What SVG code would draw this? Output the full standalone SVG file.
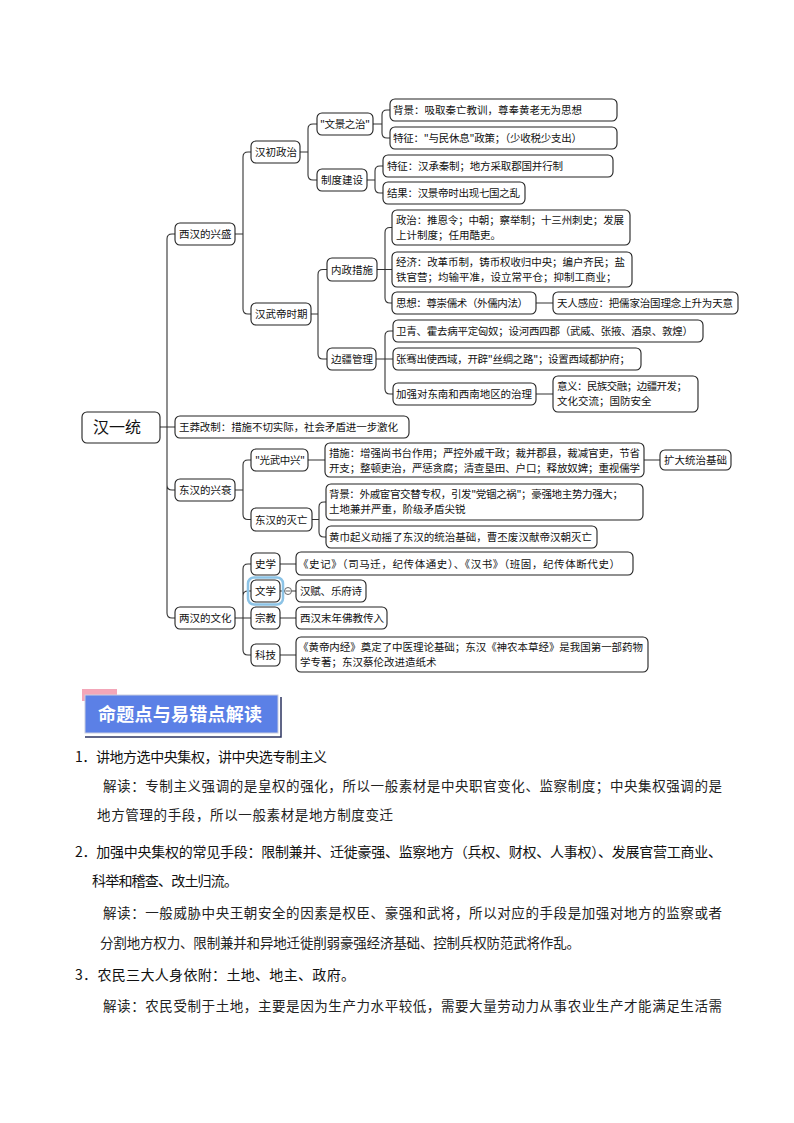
<svg xmlns="http://www.w3.org/2000/svg" width="794" height="1123" viewBox="0 0 794 1123">
<style>
.n{fill:#fff;stroke:#222;stroke-width:1.1}
.t{font-family:"Noto Sans CJK SC","Noto Sans",sans-serif;font-size:10.5px;fill:#111}
.r{font-family:"Noto Sans CJK SC","Noto Sans",sans-serif;font-size:16px;fill:#111}
.ln{fill:none;stroke:#333;stroke-width:1.1}
.p{font-family:"Noto Sans CJK SC","Noto Sans",sans-serif;font-size:14px;fill:#111}
.q{font-family:"Noto Sans CJK SC","Noto Sans",sans-serif;font-size:13.5px;fill:#222}
</style>
<rect width="794" height="1123" fill="#fff"/>
<g id="connectors">
<path class="ln" d="M160,427 H175 M167,427 V239 Q167,234 172,234 H175 M167,427 V485 Q167,490 172,490 H175 M167,427 V613 Q167,618 172,618 H175"/>
<path class="ln" d="M235,234 H243 M243,234 V157 Q243,152 248,152 H251 M243,234 V309 Q243,314 248,314 H251"/>
<path class="ln" d="M300,152 H308 M308,152 V129 Q308,124 313,124 H317 M308,152 V175 Q308,180 313,180 H317"/>
<path class="ln" d="M373,124 H382 V115 Q382,110 387,110 H390 M382,124 V133 Q382,138 387,138 H390"/>
<path class="ln" d="M367,180 H375 V171 Q375,166 380,166 H383 M375,180 V188 Q375,193 380,193 H383"/>
<path class="ln" d="M311,314 H318 V274.5 Q318,269.5 323,269.5 H327 M318,314 V354 Q318,359 323,359 H327"/>
<path class="ln" d="M377,269.5 H392 M385,269.5 V232.5 Q385,227.5 390,227.5 H392 M385,269.5 V298 Q385,303 390,303 H392 M536,303 H553"/>
<path class="ln" d="M376,359 H393 M385,359 V336 Q385,331 390,331 H393 M385,359 V389 Q385,394 390,394 H393 M536,394 H553"/>
<path class="ln" d="M235,490 H243 V465 Q243,460 248,460 H251 M243,490 V514.5 Q243,519.5 248,519.5 H251 M308,460 H325 M644,460 H660"/>
<path class="ln" d="M312,519.5 H319 V507 Q319,502 324,502 H326 M319,519.5 V532 Q319,537 324,537 H326"/>
<path class="ln" d="M235,618 H251 M243,618 V569 Q243,564 248,564 H251 M243,618 V596 Q243,591 248,591 H251 M243,618 V650 Q243,655 248,655 H251"/>
<path class="ln" d="M280,564 H296 M280,591 H296 M280,618 H296 M280,655 H296"/>
<circle cx="288" cy="591" r="3.5" fill="#fff" stroke="#666" stroke-width="1"/>
<path d="M285.5,591 H290.5" stroke="#666" stroke-width="1"/>
</g>
<g id="root"><rect class="n" x="82" y="412" width="78" height="31" rx="5" stroke-width="1.4"/><text class="r" x="93" y="433">汉一统</text></g>
<g id="xh"><rect class="n" x="175" y="223" width="60" height="22" rx="5"/><text class="t" x="179" y="238">西汉的兴盛</text></g>
<g id="hczz"><rect class="n" x="251" y="141" width="49" height="22" rx="5"/><text class="t" x="255" y="156">汉初政治</text></g>
<g id="wjzz"><rect class="n" x="317" y="113" width="56" height="22" rx="5"/><text class="t" x="320" y="128" textLength="50">"文景之治"</text></g>
<g id="wj1"><rect class="n" x="390" y="99" width="227" height="22" rx="5"/><text class="t" x="393" y="114" textLength="189">背景：吸取秦亡教训，尊奉黄老无为思想</text></g>
<g id="wj2"><rect class="n" x="390" y="127" width="227" height="22" rx="5"/><text class="t" x="393" y="142" textLength="189">特征："与民休息"政策；（少收税少支出）</text></g>
<g id="zdjs"><rect class="n" x="317" y="169" width="50" height="22" rx="5"/><text class="t" x="321" y="184">制度建设</text></g>
<g id="zd1"><rect class="n" x="383" y="155" width="230" height="22" rx="5"/><text class="t" x="387" y="170" textLength="176">特征：汉承秦制；地方采取郡国并行制</text></g>
<g id="zd2"><rect class="n" x="383" y="182" width="142" height="22" rx="5"/><text class="t" x="387" y="197" textLength="133">结果：汉景帝时出现七国之乱</text></g>
<g id="hwd"><rect class="n" x="251" y="303" width="60" height="22" rx="5"/><text class="t" x="255" y="318">汉武帝时期</text></g>
<g id="nzcs"><rect class="n" x="327" y="258" width="50" height="23" rx="5"/><text class="t" x="331" y="273.5">内政措施</text></g>
<g id="nz1"><rect class="n" x="392" y="210" width="238" height="35" rx="5"/><text class="t" x="396" y="224" textLength="228">政治：推恩令；中朝；察举制；十三州刺史；发展</text><text class="t" x="396" y="239">上计制度；任用酷吏。</text></g>
<g id="nz2"><rect class="n" x="392" y="252" width="240" height="35" rx="5"/><text class="t" x="396" y="266" textLength="229">经济：改革币制，铸币权收归中央；编户齐民；盐</text><text class="t" x="396" y="281">铁官营；均输平准，设立常平仓；抑制工商业；</text></g>
<g id="nz3"><rect class="n" x="392" y="292" width="144" height="22" rx="5"/><text class="t" x="396" y="307" textLength="132">思想：尊崇儒术（外儒内法）</text></g>
<g id="trgy"><rect class="n" x="553" y="292" width="185" height="22" rx="5"/><text class="t" x="557" y="307" textLength="176">天人感应：把儒家治国理念上升为天意</text></g>
<g id="bjgl"><rect class="n" x="327" y="348" width="49" height="22" rx="5"/><text class="t" x="331" y="363">边疆管理</text></g>
<g id="bj1"><rect class="n" x="393" y="320" width="310" height="22" rx="5"/><text class="t" x="396" y="335" textLength="297">卫青、霍去病平定匈奴；设河西四郡（武威、张掖、酒泉、敦煌）</text></g>
<g id="bj2"><rect class="n" x="393" y="348" width="248" height="22" rx="5"/><text class="t" x="396" y="363" textLength="234">张骞出使西域，开辟"丝绸之路"；设置西域都护府；</text></g>
<g id="bj3"><rect class="n" x="393" y="383" width="143" height="22" rx="5"/><text class="t" x="396" y="398" textLength="136">加强对东南和西南地区的治理</text></g>
<g id="yy"><rect class="n" x="553" y="376" width="145" height="36" rx="5"/><text class="t" x="557" y="390" textLength="130">意义：民族交融；边疆开发；</text><text class="t" x="557" y="405">文化交流；国防安全</text></g>
<g id="wm"><rect class="n" x="175" y="416" width="234" height="22" rx="5"/><text class="t" x="179" y="431" textLength="219">王莽改制：措施不切实际，社会矛盾进一步激化</text></g>
<g id="dh"><rect class="n" x="175" y="479" width="60" height="22" rx="5"/><text class="t" x="179" y="494">东汉的兴衰</text></g>
<g id="gw"><rect class="n" x="251" y="449" width="57" height="22" rx="5"/><text class="t" x="255" y="464" textLength="50">"光武中兴"</text></g>
<g id="gw1"><rect class="n" x="325" y="443" width="319" height="34" rx="5"/><text class="t" x="329" y="457" textLength="311">措施：增强尚书台作用；严控外戚干政；裁并郡县，裁减官吏，节省</text><text class="t" x="329" y="472" textLength="311">开支；整顿吏治，严惩贪腐；清查垦田、户口；释放奴婢；重视儒学</text></g>
<g id="kd"><rect class="n" x="660" y="450" width="71" height="20" rx="5"/><text class="t" x="664" y="464" textLength="63">扩大统治基础</text></g>
<g id="mw"><rect class="n" x="251" y="508" width="61" height="23" rx="5"/><text class="t" x="255" y="523.5">东汉的灭亡</text></g>
<g id="mw1"><rect class="n" x="326" y="484" width="317" height="36" rx="5"/><text class="t" x="329" y="498" textLength="294">背景：外戚宦官交替专权，引发"党锢之祸"；豪强地主势力强大；</text><text class="t" x="329" y="513">土地兼并严重，阶级矛盾尖锐</text></g>
<g id="mw2"><rect class="n" x="326" y="526" width="271" height="22" rx="5"/><text class="t" x="329" y="541" textLength="263">黄巾起义动摇了东汉的统治基础，曹丕废汉献帝汉朝灭亡</text></g>
<g id="lh"><rect class="n" x="175" y="607" width="60" height="22" rx="5"/><text class="t" x="179" y="622">两汉的文化</text></g>
<g id="sx"><rect class="n" x="251" y="553" width="29" height="22" rx="5"/><text class="t" x="255" y="568">史学</text></g>
<g id="wx"><rect x="248" y="577.5" width="35" height="27" rx="6" fill="none" stroke="#8cc3e6" stroke-width="2.5"/><rect class="n" x="251" y="580" width="29" height="22" rx="5"/><text class="t" x="255" y="595">文学</text></g>
<g id="zj"><rect class="n" x="251" y="607" width="29" height="22" rx="5"/><text class="t" x="255" y="622">宗教</text></g>
<g id="kj"><rect class="n" x="251" y="644" width="29" height="22" rx="5"/><text class="t" x="255" y="659">科技</text></g>
<g id="sx1"><rect class="n" x="296" y="552" width="337" height="23" rx="5"/><text class="t" x="298" y="567.5" textLength="322">《史记》（司马迁，纪传体通史）、《汉书》（班固，纪传体断代史）</text></g>
<g id="wx1"><rect class="n" x="296" y="580" width="70" height="22" rx="5"/><text class="t" x="300" y="595" textLength="62">汉赋、乐府诗</text></g>
<g id="zj1"><rect class="n" x="296" y="607" width="91" height="22" rx="5"/><text class="t" x="300" y="622" textLength="84">西汉末年佛教传入</text></g>
<g id="kj1"><rect class="n" x="296" y="637" width="352" height="35" rx="5"/><text class="t" x="298" y="651" textLength="345">《黄帝内经》奠定了中医理论基础；东汉《神农本草经》是我国第一部药物</text><text class="t" x="300" y="666">学专著；东汉蔡伦改进造纸术</text></g>
<g id="banner">
<rect x="82" y="689" width="35" height="12" fill="#f3a6b8"/>
<path d="M281,697 V737 H85" fill="none" stroke="#2c3560" stroke-width="1.5"/>
<rect x="85" y="695" width="193" height="38" fill="#5b80e6" stroke="#c9cde0" stroke-width="1"/>
<text x="98" y="721" textLength="164" style="font-family:'Noto Sans CJK SC',sans-serif;font-size:18px;font-weight:bold;fill:#fff">命题点与易错点解读</text>
</g>
<g id="body">
<text class="p" x="75" y="762" textLength="252">1．讲地方选中央集权，讲中央选专制主义</text>
<text class="q" x="103" y="791" textLength="619">解读：专制主义强调的是皇权的强化，所以一般素材是中央职官变化、监察制度；中央集权强调的是</text>
<text class="q" x="97" y="820" textLength="296">地方管理的手段，所以一般素材是地方制度变迁</text>
<text class="p" x="75" y="857" textLength="647">2．加强中央集权的常见手段：限制兼并、迁徙豪强、监察地方（兵权、财权、人事权）、发展官营工商业、</text>
<text class="p" x="92" y="886" textLength="146">科举和稽查、改土归流。</text>
<text class="q" x="103" y="918" textLength="619">解读：一般威胁中央王朝安全的因素是权臣、豪强和武将，所以对应的手段是加强对地方的监察或者</text>
<text class="q" x="100" y="948" textLength="480">分割地方权力、限制兼并和异地迁徙削弱豪强经济基础、控制兵权防范武将作乱。</text>
<text class="p" x="75" y="980" textLength="280">3．农民三大人身依附：土地、地主、政府。</text>
<text class="q" x="103" y="1011" textLength="619">解读：农民受制于土地，主要是因为生产力水平较低，需要大量劳动力从事农业生产才能满足生活需</text>
</g>
</svg>
